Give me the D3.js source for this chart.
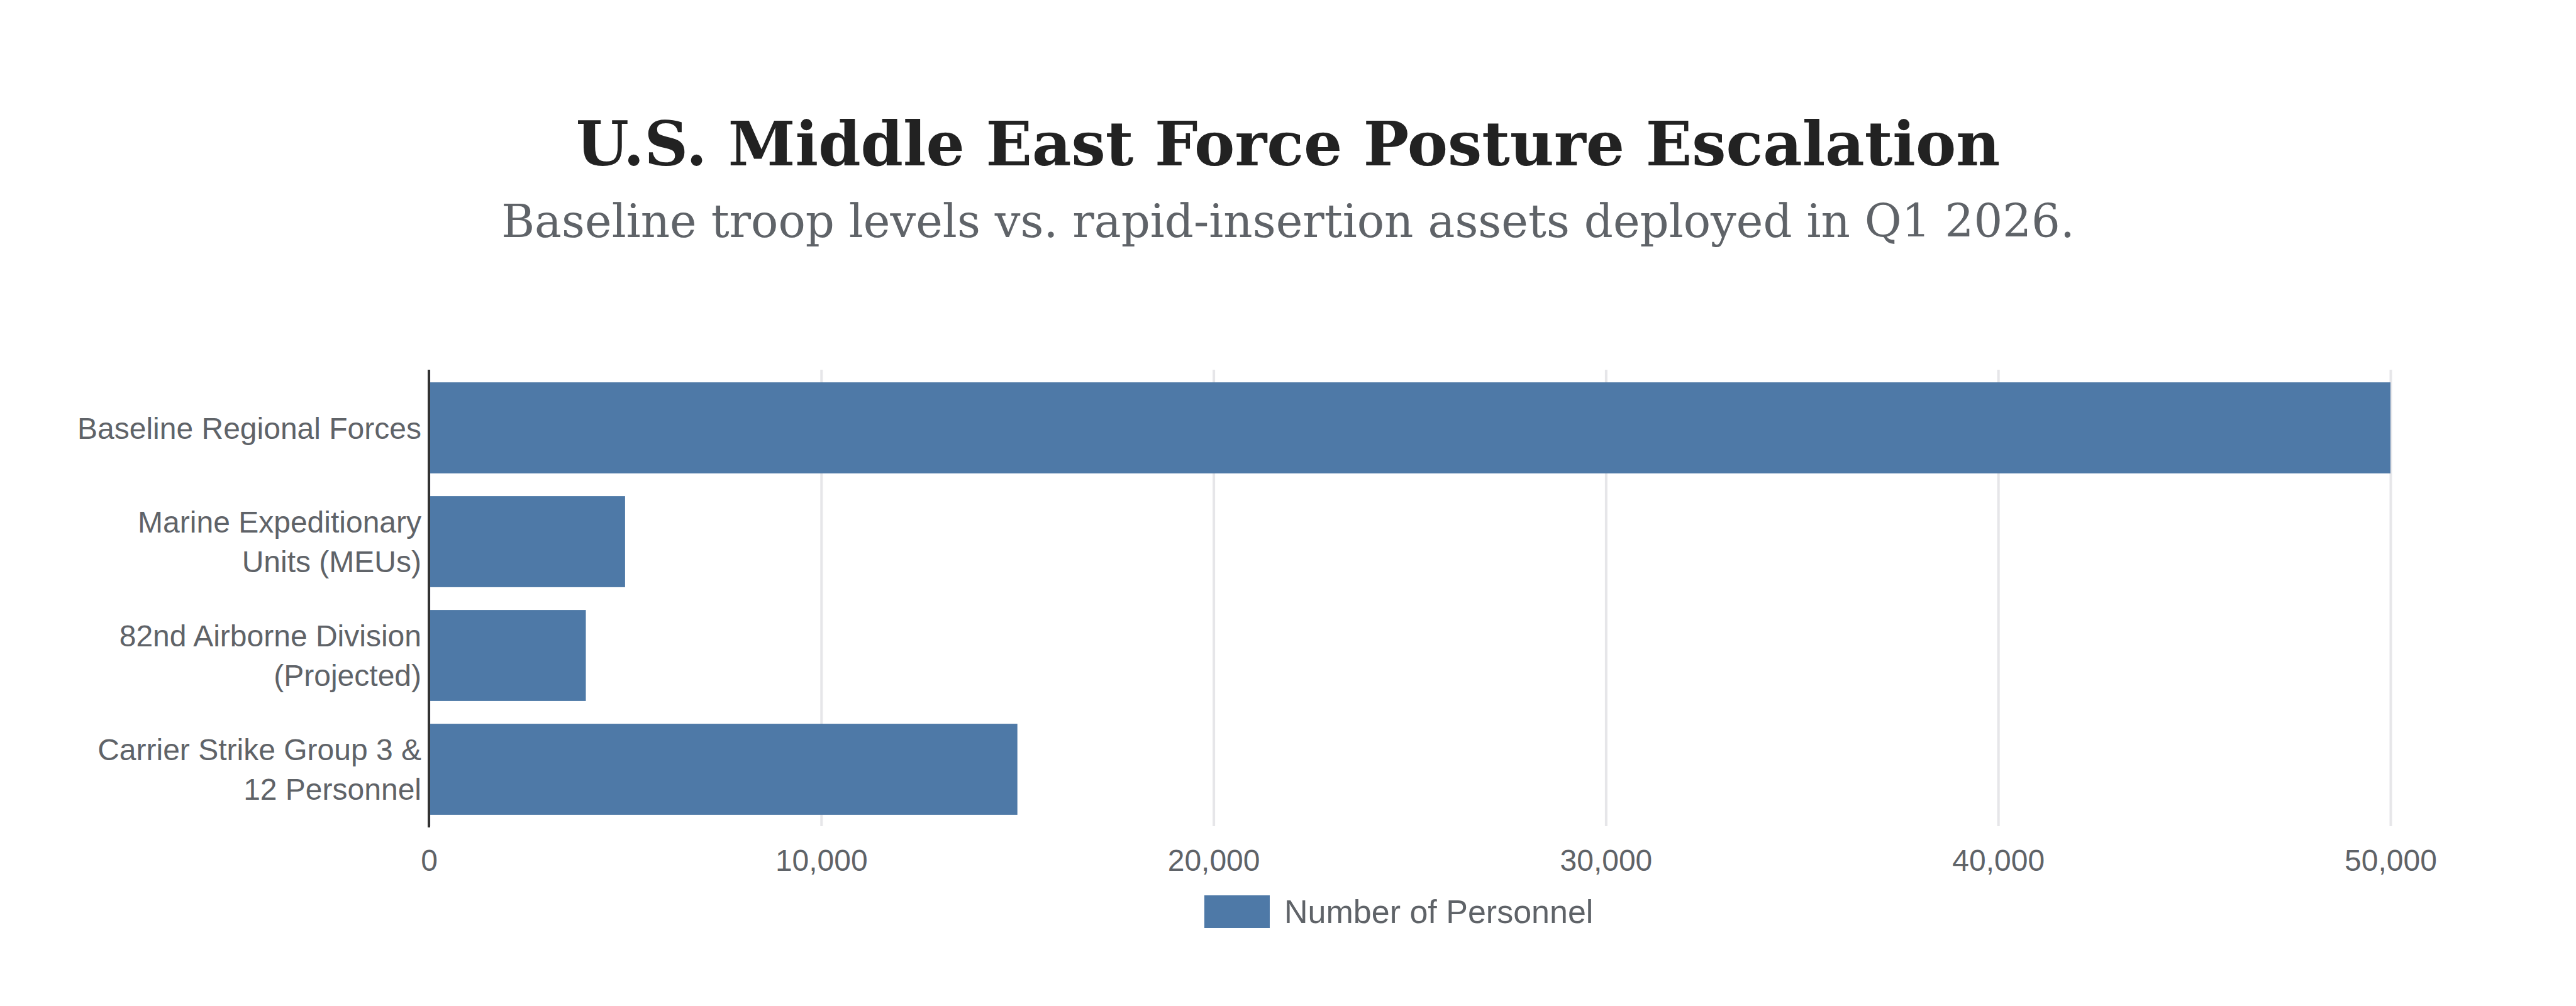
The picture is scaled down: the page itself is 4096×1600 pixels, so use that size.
<!DOCTYPE html>
<html>
<head>
<meta charset="utf-8">
<script src="https://cdn.jsdelivr.net/npm/d3@7"></script>
<style>
  html, body { margin: 0; padding: 0; background: #ffffff; }
  svg { display: block; }
</style>
</head>
<body>
<svg id="chart" width="4096" height="1600"></svg>
<script>
// ---- data ----
const categories = [
  "Baseline Regional Forces",
  "Marine Expeditionary Units (MEUs)",
  "82nd Airborne Division (Projected)",
  "Carrier Strike Group 3 & 12 Personnel"
];
const categoryLines = [
  ["Baseline Regional Forces"],
  ["Marine Expeditionary", "Units (MEUs)"],
  ["82nd Airborne Division", "(Projected)"],
  ["Carrier Strike Group 3 &", "12 Personnel"]
];
const personnel = [50000, 5000, 4000, 15000];
const xTicks = [0, 10000, 20000, 30000, 40000, 50000];
const seriesName = "Number of Personnel";
const titleText = "U.S. Middle East Force Posture Escalation";
const subtitleText = "Baseline troop levels vs. rapid-insertion assets deployed in Q1 2026.";

// ---- layout ----
const W = 4096, H = 1600;
const plot = { left: 682, right: 3801, top: 590, bottom: 1314 };
const barColor = "#4e79a7";
const textColor = "#5f6368";
const sansFont = "'Liberation Sans', Arial, Helvetica, sans-serif";
const serifFont = "'DejaVu Serif', 'Liberation Serif', serif";

const svg = d3.select("#chart");

// title & subtitle (fit to reference widths)
function fitText(sel, targetWidth, startSize) {
  sel.attr("font-size", startSize);
  const w = sel.node().getComputedTextLength();
  sel.attr("font-size", startSize * targetWidth / w);
}
const title = svg.append("text")
  .attr("x", W / 2).attr("y", 263)
  .attr("text-anchor", "middle")
  .attr("font-family", serifFont)
  .attr("font-weight", "bold")
  .attr("fill", "#222222")
  .text(titleText);
fitText(title, 2265, 120);

const subtitle = svg.append("text")
  .attr("x", W / 2).attr("y", 377)
  .attr("text-anchor", "middle")
  .attr("font-family", serifFont)
  .attr("fill", "#5f6368")
  .text(subtitleText);
fitText(subtitle, 2502, 76);

// scales
const x = d3.scaleLinear().domain([0, 50000]).range([plot.left, plot.right]);
const y = d3.scaleBand().domain(categories).range([plot.top, plot.bottom])
  .paddingInner(0.2).paddingOuter(0.1);

// grid + x axis
const xAxis = d3.axisBottom(x)
  .tickValues(xTicks)
  .tickFormat(d3.format(","))
  .tickSize(-(plot.bottom - plot.top + 2))
  .tickPadding(37);

const gx = svg.append("g")
  .attr("transform", `translate(0,${plot.bottom})`)
  .call(xAxis);
gx.select(".domain").remove();
gx.selectAll(".tick line")
  .attr("stroke", "#e6e6e9")
  .attr("stroke-width", 4);
gx.selectAll(".tick text")
  .attr("font-family", sansFont)
  .attr("font-size", 48)
  .attr("fill", textColor);

// bars
svg.append("g")
  .selectAll("rect")
  .data(categories)
  .join("rect")
  .attr("x", x(0))
  .attr("y", d => y(d))
  .attr("width", (d, i) => x(personnel[i]) - x(0))
  .attr("height", y.bandwidth())
  .attr("fill", barColor);

// y axis line
svg.append("line")
  .attr("x1", x(0)).attr("x2", x(0))
  .attr("y1", plot.top - 2).attr("y2", plot.bottom + 2)
  .attr("stroke", "#333333")
  .attr("stroke-width", 4);

// y category labels
const lineGap = 63;
const gy = svg.append("g");
categories.forEach((c, i) => {
  const lines = categoryLines[i];
  const cy = y(c) + y.bandwidth() / 2;
  const t = gy.append("text")
    .attr("text-anchor", "end")
    .attr("font-family", sansFont)
    .attr("font-size", 48)
    .attr("fill", textColor);
  lines.forEach((ln, j) => {
    const offset = (j - (lines.length - 1) / 2) * lineGap;
    t.append("tspan")
      .attr("x", plot.left - 12)
      .attr("y", cy + offset + 17)
      .text(ln);
  });
});

// legend
const lg = svg.append("g");
lg.append("rect")
  .attr("x", 1915).attr("y", 1424)
  .attr("width", 104).attr("height", 52)
  .attr("fill", barColor);
lg.append("text")
  .attr("x", 2042).attr("y", 1468)
  .attr("font-family", sansFont)
  .attr("font-size", 52)
  .attr("fill", textColor)
  .text(seriesName);
</script>
</body>
</html>
